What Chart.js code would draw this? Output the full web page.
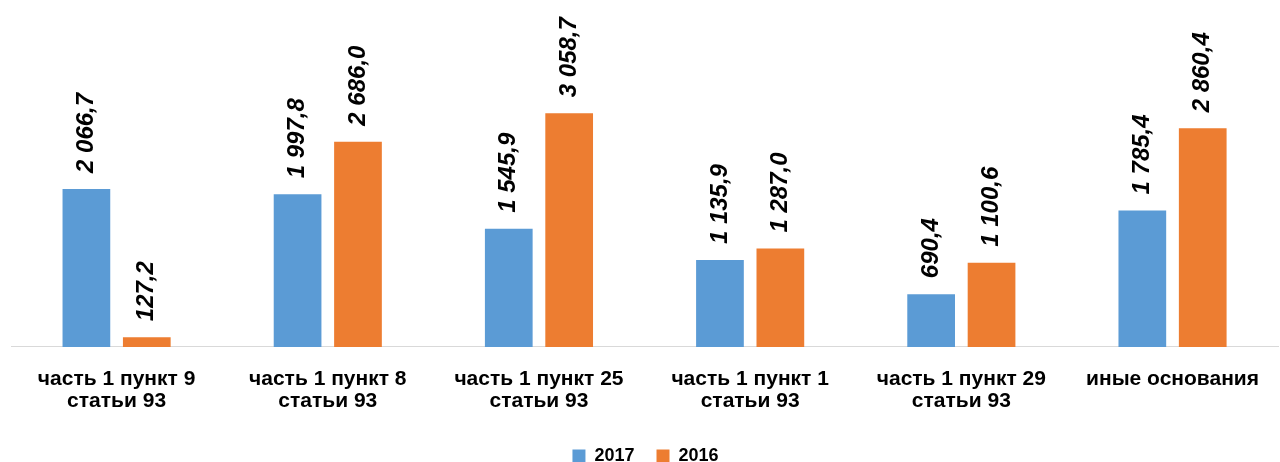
<!DOCTYPE html>
<html>
<head>
<meta charset="utf-8">
<script src="https://cdn.jsdelivr.net/npm/chart.js@4.4.0/dist/chart.umd.min.js"></script>
<style>
  html, body { margin: 0; padding: 0; background: #fff; }
  #wrap { width: 1280px; height: 462px; }
</style>
</head>
<body>
<div id="wrap"><canvas id="chart"></canvas></div>
<script>
const categories = [
    ["часть 1 пункт 9", "статьи 93"],
    ["часть 1 пункт 8", "статьи 93"],
    ["часть 1 пункт 25", "статьи 93"],
    ["часть 1 пункт 1", "статьи 93"],
    ["часть 1 пункт 29", "статьи 93"],
    "иные основания",
];
const values2017 = [2066.7, 1997.8, 1545.9, 1135.9, 690.4, 1785.4];
const values2016 = [127.2, 2686.0, 3058.7, 1287.0, 1100.6, 2860.4];

const fmt = (v) => {
    const parts = v.toFixed(1).split(".");
    const whole = parts[0].replace(/\B(?=(\d{3})+(?!\d))/g, " ");
    return whole + "," + parts[1];
};

// вертикальные подписи над столбцами
const barLabels = {
    id: "barLabels",
    afterDatasetsDraw(chart) {
        const ctx = chart.ctx;
        ctx.save();
        ctx.font = "italic bold 24px 'Liberation Sans', Arial, sans-serif";
        ctx.fillStyle = "#000";
        ctx.textAlign = "left";
        ctx.textBaseline = "middle";
        chart.data.datasets.forEach((ds, di) => {
            chart.getDatasetMeta(di).data.forEach((bar, i) => {
                ctx.save();
                ctx.translate(bar.x, bar.y - 16);
                ctx.rotate(-Math.PI / 2);
                ctx.fillText(fmt(ds.data[i]), 0, 0);
                ctx.restore();
            });
        });
        ctx.restore();
    },
};

new Chart(document.getElementById("chart"), {
    type: "bar",
    data: {
        labels: categories,
        datasets: [
            {
                label: "2017",
                data: values2017,
                backgroundColor: "#5B9BD5",
                categoryPercentage: 0.572,
                barPercentage: 0.79,
            },
            {
                label: "2016",
                data: values2016,
                backgroundColor: "#ED7D31",
                categoryPercentage: 0.572,
                barPercentage: 0.79,
            },
        ],
    },
    options: {
        responsive: true,
        maintainAspectRatio: false,
        animation: false,
        layout: { padding: { left: 11, right: 0, top: 0, bottom: -13 } },
        scales: {
            x: {
                grid: { display: false, drawTicks: false },
                border: { color: "#d9d9d9", width: 1 },
                ticks: {
                    color: "#000",
                    padding: 21,
                    maxRotation: 0,
                    autoSkip: false,
                    font: { family: "'Liberation Sans', Arial, sans-serif", size: 21, weight: "bold", lineHeight: 1.05 },
                },
                afterFit(scale) {
                    scale.height -= 8;
                },
            },
            y: {
                display: false,
                min: 0,
                max: 4540,
            },
        },
        plugins: {
            legend: {
                position: "bottom",
                labels: {
                    color: "#000",
                    boxWidth: 13,
                    boxHeight: 13,
                    padding: 22,
                    font: { family: "'Liberation Sans', Arial, sans-serif", size: 18, weight: "bold" },
                },
            },
            tooltip: { enabled: false },
        },
    },
    plugins: [barLabels],
});
</script>
</body>
</html>
